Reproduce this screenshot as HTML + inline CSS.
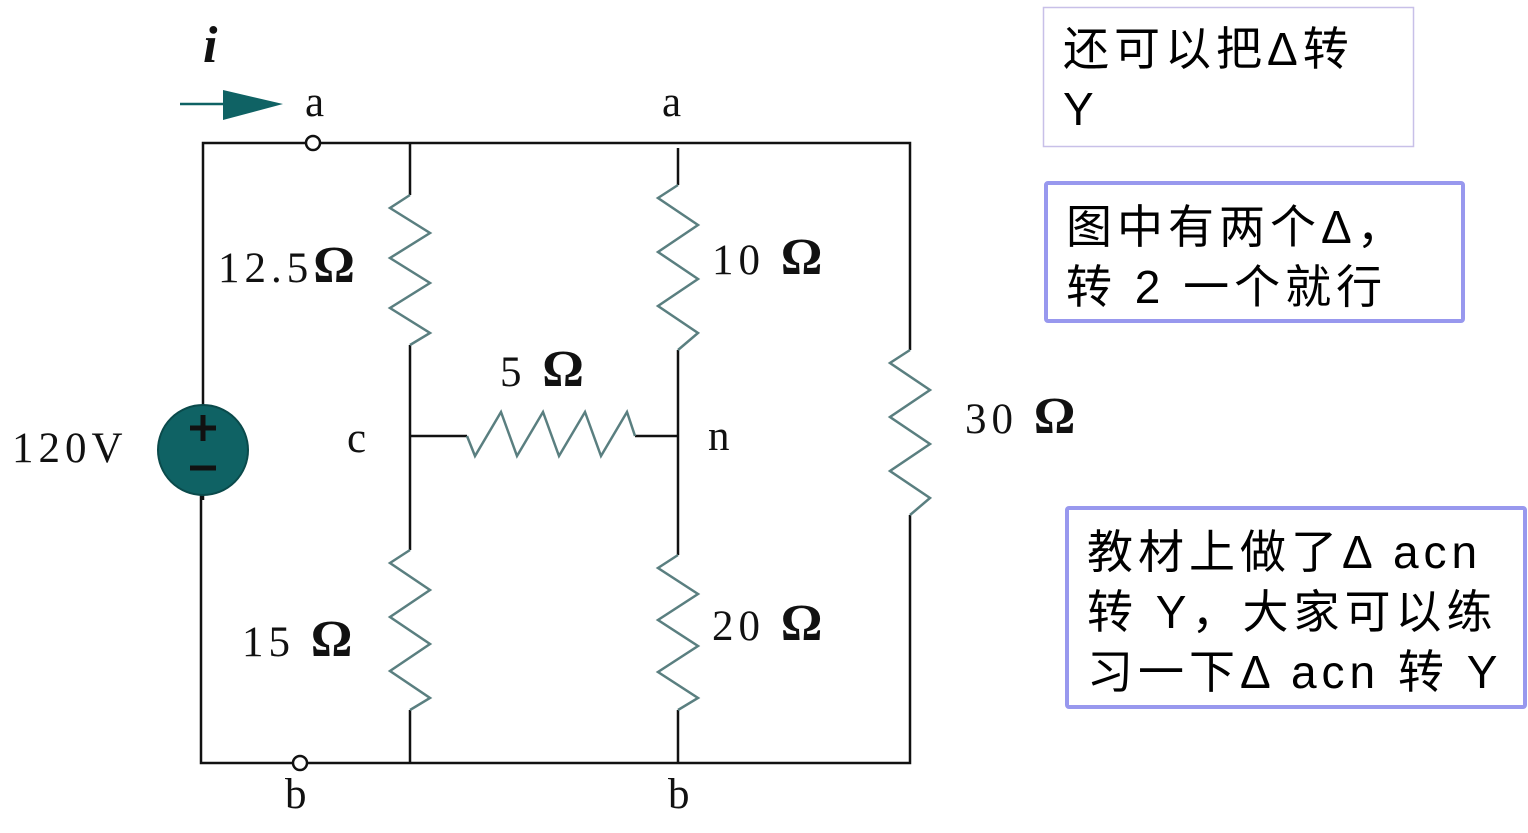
<!DOCTYPE html>
<html><head><meta charset="utf-8"><style>
body{margin:0;background:#fff;width:1528px;height:833px;overflow:hidden}
svg{position:absolute;left:0;top:0}
.s{font-family:"Liberation Serif",serif;font-size:43px;fill:#111;letter-spacing:5px}
.b{font-family:"Liberation Serif",serif;font-size:52px;font-weight:bold;fill:#111}
.c{font-family:"Liberation Sans","Noto Sans CJK SC",sans-serif;font-size:46px;fill:#000;letter-spacing:5px}
</style></head><body>
<svg width="1528" height="833" viewBox="0 0 1528 833">
<g stroke="#111" stroke-width="2.5" fill="none">
<path d="M203 405 V143 H307 M319 143 H910 V350 M910 515 V763 H306 M294 763 H201 V495 M203 495 V500"/>
<path d="M410 143 V195 M410 345 V550 M410 710 V763"/>
<path d="M678 148 V185 M678 350 V555 M678 710 V763"/>
<path d="M410 436 H467 M635 436 H678"/>
<circle cx="313" cy="143" r="7" fill="#fff"/>
<circle cx="300" cy="763" r="7" fill="#fff"/>
</g>
<g stroke="#5a7f80" stroke-width="2.5" fill="none">
<path d="M410 195 L390 208 L430 233 L390 258 L430 283 L390 308 L430 333 L410 345"/>
<path d="M410 550 L390 563 L430 590 L390 617 L430 644 L390 671 L430 698 L410 710"/>
<path d="M678 185 L658 198 L698 225 L658 252 L698 279 L658 306 L698 333 L678 350"/>
<path d="M678 555 L658 568 L698 594 L658 620 L698 646 L658 672 L698 698 L678 710"/>
<path d="M910 350 L890 363 L930 390 L890 417 L930 444 L890 471 L930 498 L910 515"/>
<path d="M467 436 L475 456 L501 412 L517 456 L543 412 L559 456 L585 412 L601 456 L627 412 L635 436"/>
</g>
<path d="M180 104 H225" stroke="#0f6264" stroke-width="2.5"/>
<polygon points="223,90 283,104 223,120" fill="#0f6264"/>
<circle cx="203" cy="450" r="45" fill="#0f6264" stroke="#0a4a4b" stroke-width="2"/>
<path d="M190 428 H216 M203 415 V441 M190 468 H216" stroke="#111" stroke-width="5"/>
<text x="203" y="62" class="b" font-style="italic" font-size="48">i</text>
<text x="305" y="116" class="s">a</text>
<text x="662" y="116" class="s">a</text>
<text x="285" y="808" class="s">b</text>
<text x="668" y="808" class="s">b</text>
<text x="347" y="452" class="s">c</text>
<text x="708" y="450" class="s">n</text>
<text x="12" y="462" class="s">120V</text>
<text x="218" y="282" class="s">12.5<tspan class="b">Ω</tspan></text>
<text x="712" y="274" class="s">10 <tspan class="b">Ω</tspan></text>
<text x="500" y="386" class="s">5 <tspan class="b">Ω</tspan></text>
<text x="965" y="433" class="s">30 <tspan class="b">Ω</tspan></text>
<text x="242" y="656" class="s">15 <tspan class="b">Ω</tspan></text>
<text x="712" y="640" class="s">20 <tspan class="b">Ω</tspan></text>
<rect x="1043.5" y="7.5" width="370" height="139" fill="#fff" stroke="#c8c0e8" stroke-width="1.5"/>
<text x="1063" y="65" class="c">还可以把Δ转</text>
<text x="1063" y="125" class="c">Y</text>
<rect x="1046" y="183" width="417" height="138" fill="#fff" stroke="#9898ee" stroke-width="4" rx="2"/>
<text x="1066" y="243" class="c">图中有两个Δ，</text>
<text x="1066" y="303" class="c">转 2 一个就行</text>
<rect x="1067" y="508" width="458" height="199" fill="#fff" stroke="#9898ee" stroke-width="4" rx="2"/>
<text x="1087" y="568" class="c">教材上做了Δ acn</text>
<text x="1087" y="628" class="c">转 Y，大家可以练</text>
<text x="1087" y="688" class="c">习一下Δ acn 转 Y</text>
</svg>
</body></html>
